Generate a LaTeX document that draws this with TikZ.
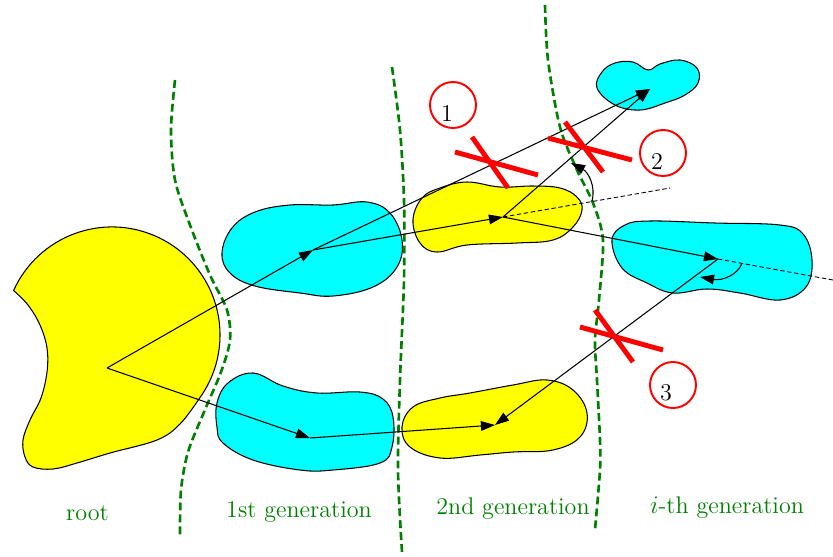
\documentclass[tikz,border=0pt]{standalone}
\usepackage{tikz}
\usetikzlibrary{arrows.meta, calc}
\definecolor{gengreen}{RGB}{0,128,0}
\definecolor{blobcyan}{RGB}{0,255,255}
\definecolor{blobyellow}{RGB}{255,255,0}
\definecolor{cutred}{RGB}{255,0,0}

\begin{document}
\begin{tikzpicture}[
  x=0.02cm, y=-0.02cm,
  font=\fontsize{13.7}{16}\selectfont,
  blob/.style={draw=black, line width=0.6pt},
  child/.style={blob, fill=blobcyan},
  parent/.style={blob, fill=blobyellow},
  border/.style={draw=gengreen, line width=1.5pt, dash pattern=on 4.5pt off 2.3pt},
  arrow/.style={-{Triangle[length=8pt,width=5.5pt]}, line width=0.6pt},
  ext/.style={line width=0.5pt, dash pattern=on 2.5pt off 1.5pt},
  cut/.style={draw=cutred, line width=2.8pt},
  numcirc/.style={circle, draw=cutred, line width=1.1pt, minimum size=0.92cm, inner sep=0pt},
  gen/.style={text=gengreen, anchor=base},
]
  \useasboundingbox (0,0) rectangle (833,556);

  % root
  \draw[parent] (13.6,290.5) arc[start angle=204.3, end angle=396.4, radius=108]
    -- plot[smooth, tension=0.6] coordinates {(198.9,399.1) (180,424) (157,440) (110,453)
    (77,463) (53,469) (33,467) (25,457) (23,440) (30,420) (41,398) (47,372) (47,348)
    (40,325) (28,305) (13.6,290.5)} -- cycle;

  % 1st generation
  \draw[child] plot[smooth cycle, tension=0.65] coordinates {(222,253) (232,228) (255,212)
    (290,205) (333,205) (367,202) (390,213) (402,240) (397,267) (373,287) (333,296)
    (300,293) (255,286) (230,273)};
  \draw[child] plot[smooth cycle, tension=0.65] coordinates {(217,403) (228,383) (253,373)
    (283,386) (317,393) (360,392) (383,399) (393,417) (392,447) (380,463) (333,470)
    (300,470) (253,460) (223,443) (217,427)};

  % 2nd generation
  \draw[parent] plot[smooth cycle, tension=0.65] coordinates {(413,220) (422,198) (440,188)
    (467,182) (500,187) (533,186) (560,188) (577,197) (582,210) (573,227) (553,240)
    (517,243) (467,245) (437,252) (420,243)};
  \draw[parent] plot[smooth cycle, tension=0.65] coordinates {(402,427) (413,407) (440,398)
    (470,393) (513,385) (547,380) (573,390) (587,413) (580,437) (553,450) (513,452)
    (480,455) (440,458) (410,447)};

  % i-th generation
  \draw[child] plot[smooth cycle, tension=0.65] coordinates {(597,88) (602,72) (615,63)
    (633,62) (648,70) (660,64) (680,60) (697,68) (698,83) (685,95) (665,103) (640,110)
    (615,105)};
  \draw[child] plot[smooth cycle, tension=0.65] coordinates {(612,240) (625,225) (650,221)
    (715,223) (780,225) (803,234) (812,260) (806,287) (780,300) (740,293) (707,289)
    (673,293) (647,283) (622,268)};

  % generation borders
  \draw[border] plot[smooth] coordinates {(175,80) (171,130) (175,180) (190,225) (210,275)
    (227,310) (230,340) (221,372) (204,412) (188,452) (181,490) (180,535)};
  \draw[border] plot[smooth] coordinates {(392,67) (400,130) (404,200) (404,280) (400,380)
    (398,470) (402,552)};
  \draw[border] plot[smooth] coordinates {(545,5) (548,60) (560,127) (577,170) (593,203)
    (603,240) (599,300) (595,340) (597,380) (600,440) (600,470) (595,530)};

  \coordinate (r0) at (107,368);
  \coordinate (a1) at (313,250);
  \coordinate (b1) at (310,438);
  \coordinate (a2) at (503,217);
  \coordinate (b2) at (495,425);
  \coordinate (t3) at (650,89);
  \coordinate (m3) at (718,259);
  \coordinate (e2) at (670,188);
  \coordinate (e3) at (833,280);

  \draw[arrow] (r0) -- (a1);
  \draw[arrow] (r0) -- (b1);
  \draw[arrow] (a1) -- (a2);
  \draw[arrow] (b1) -- (b2);
  \draw[arrow] (a1) -- (t3);
  \draw[arrow] (a2) -- (t3);
  \draw[arrow] (a2) -- (m3);
  \draw[arrow] (m3) -- (b2);
  \draw[ext] (a2) -- (e2);
  \draw[ext] (m3) -- (e3);

  % angles
  \draw[arrow] (592,201) .. controls (596,186) and (588,172) .. (571,163);
  \draw[arrow] (742,263) .. controls (738,275) and (722,281) .. (700,277);

  % forbidden moves
  \draw[cut] (455,152) -- (538,175);
  \draw[cut] (472,137) -- (508,188);
  \draw[cut] (548,138) -- (632,160);
  \draw[cut] (565,122) -- (603,172);
  \draw[cut] (580,327) -- (663,350);
  \draw[cut] (595,310) -- (633,362);

  \node[numcirc] (c1) at (453,105) {};
  \node (n1) at ($(c1)+(-6,8)$) {1};
  \node[numcirc] (c2) at (663,153) {};
  \node (n2) at ($(c2)+(-6,8)$) {2};
  \node[numcirc] (c3) at (673,385) {};
  \node (n3) at ($(c3)+(-7,8)$) {3};

  \node[gen] (root) at (87.5,520) {root};
  \node[gen] (gen1) at (299,517) {1st generation};
  \node[gen] (gen2) at (513,514) {2nd generation};
  \node[gen] (geni) at (727,513) {$i$-th generation};
\end{tikzpicture}
\end{document}
